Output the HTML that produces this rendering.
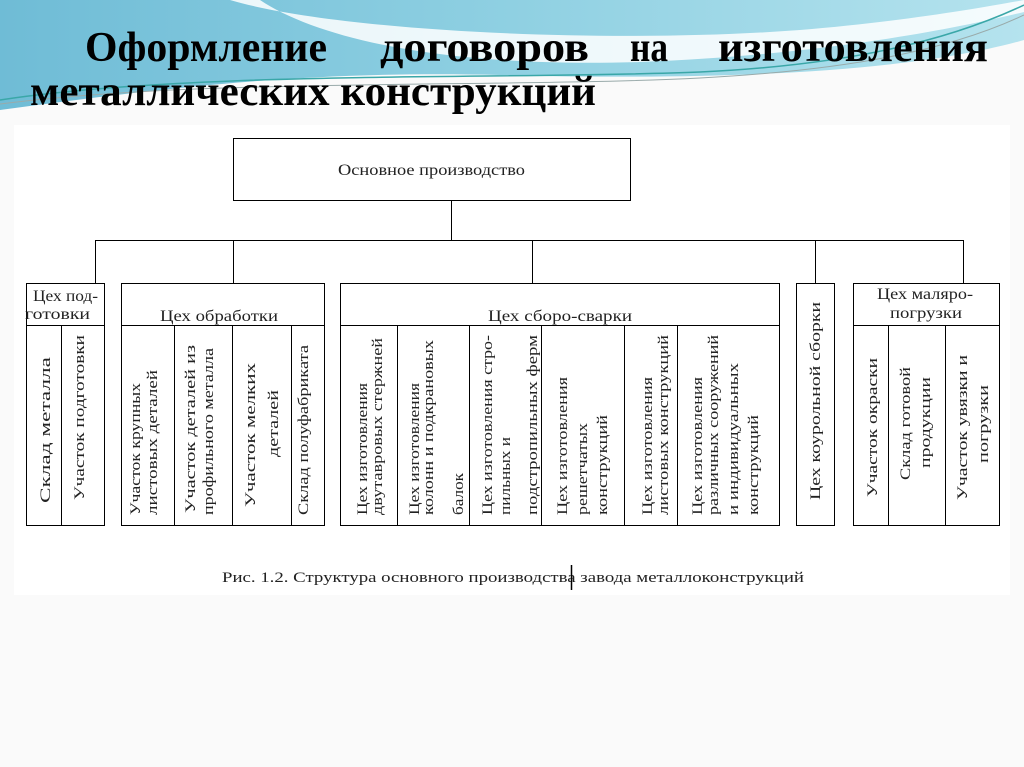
<!DOCTYPE html>
<html><head><meta charset="utf-8"><style>
html,body{margin:0;padding:0;background:#fff;}
svg{display:block;}
</style></head><body>
<svg width="1024" height="767" viewBox="0 0 1024 767" xmlns="http://www.w3.org/2000/svg">
<defs>
<linearGradient id="g1" x1="0" y1="0" x2="1" y2="0">
<stop offset="0" stop-color="#6fbcd6"/><stop offset="0.5" stop-color="#8fd0e2"/><stop offset="1" stop-color="#b5e3ee"/>
</linearGradient>
</defs>
<rect x="0" y="0" width="1024" height="767" fill="#fafafa"/>
<rect x="14" y="125" width="996" height="470" fill="#ffffff"/>
<path d="M0 0 H1024 V40 C900 75 700 80 500 75 C300 70 150 90 0 110 Z" fill="url(#g1)"/>
<path d="M230 0 C330 30 600 45 800 30 C900 22 980 8 1024 0 L1024 12 C950 30 820 55 640 62 C450 68 320 40 260 0 Z" fill="#ffffff" opacity="0.85"/>
<path d="M0 100 C200 70 500 80 700 72 C850 65 950 40 1024 5" stroke="#3aa7a8" stroke-width="1.5" fill="none"/>
<path d="M0 104 C200 78 500 88 700 78 C850 70 950 50 1024 15" stroke="#9aa" stroke-width="1" fill="none"/>
<g font-family="'Liberation Serif','Noto Serif CJK SC',serif" font-weight="bold" fill="#000" font-size="42">
<text x="85" y="61" textLength="242" lengthAdjust="spacingAndGlyphs">Оформление</text>
<text x="380" y="61" textLength="209" lengthAdjust="spacingAndGlyphs">договоров</text>
<text x="630" y="61" textLength="38" lengthAdjust="spacingAndGlyphs">на</text>
<text x="718" y="61" textLength="270" lengthAdjust="spacingAndGlyphs">изготовления</text>
<text x="30" y="105" textLength="566" lengthAdjust="spacingAndGlyphs">металлических конструкций</text>
</g>
<g stroke="#000" stroke-width="1" fill="none">
<rect x="233.5" y="138.5" width="397" height="62"/>
<line x1="451.5" y1="200" x2="451.5" y2="240"/>
<line x1="95" y1="240.5" x2="964" y2="240.5"/>
<line x1="95.5" y1="240" x2="95.5" y2="283"/>
<line x1="233.5" y1="240" x2="233.5" y2="283"/>
<line x1="532.5" y1="240" x2="532.5" y2="283"/>
<line x1="815.5" y1="240" x2="815.5" y2="283"/>
<line x1="963.5" y1="240" x2="963.5" y2="283"/>
<rect x="26.5" y="283.5" width="78" height="242"/>
<line x1="26" y1="325.5" x2="104" y2="325.5"/><line x1="61.5" y1="325" x2="61.5" y2="525"/>
<rect x="121.5" y="283.5" width="203" height="242"/>
<line x1="121" y1="325.5" x2="324" y2="325.5"/>
<line x1="174.5" y1="325" x2="174.5" y2="525"/><line x1="232.5" y1="325" x2="232.5" y2="525"/><line x1="291.5" y1="325" x2="291.5" y2="525"/>
<rect x="340.5" y="283.5" width="439" height="242"/>
<line x1="340" y1="325.5" x2="779" y2="325.5"/>
<line x1="397.5" y1="325" x2="397.5" y2="525"/><line x1="469.5" y1="325" x2="469.5" y2="525"/><line x1="541.5" y1="325" x2="541.5" y2="525"/><line x1="624.5" y1="325" x2="624.5" y2="525"/><line x1="677.5" y1="325" x2="677.5" y2="525"/>
<rect x="796.5" y="283.5" width="38" height="242"/>
<rect x="853.5" y="283.5" width="146" height="242"/>
<line x1="853" y1="325.5" x2="999" y2="325.5"/>
<line x1="888.5" y1="325" x2="888.5" y2="525"/><line x1="945.5" y1="325" x2="945.5" y2="525"/>
</g>
<g font-family="'Liberation Serif','Noto Serif CJK SC',serif" fill="#222" font-size="16">
<text x="338" y="175" textLength="187" lengthAdjust="spacingAndGlyphs">Основное производство</text>
<text x="33" y="301" textLength="65" lengthAdjust="spacingAndGlyphs">Цех под-</text>
<text x="25" y="319" textLength="65" lengthAdjust="spacingAndGlyphs">готовки</text>
<text x="160" y="321" textLength="118" lengthAdjust="spacingAndGlyphs">Цех обработки</text>
<text x="488" y="321" textLength="144" lengthAdjust="spacingAndGlyphs">Цех сборо-сварки</text>
<text x="877" y="299" textLength="96" lengthAdjust="spacingAndGlyphs">Цех маляро-</text>
<text x="890" y="318" textLength="72" lengthAdjust="spacingAndGlyphs">погрузки</text>
<text x="222" y="582" font-size="15" textLength="582" lengthAdjust="spacingAndGlyphs">Рис. 1.2. Структура основного производства завода металлоконструкций</text>
</g>
<line x1="571.5" y1="565" x2="571.5" y2="590" stroke="#000" stroke-width="1.5"/>
<g font-family="'Liberation Serif','Noto Serif CJK SC',serif" fill="#222" font-size="15">
<text transform="translate(50,503) rotate(-90)" textLength="146" lengthAdjust="spacingAndGlyphs">Склад металла</text>
<text transform="translate(84,500) rotate(-90)" textLength="165" lengthAdjust="spacingAndGlyphs">Участок подготовки</text>
<text transform="translate(140,515) rotate(-90)" textLength="132" lengthAdjust="spacingAndGlyphs">Участок крупных</text>
<text transform="translate(157,515) rotate(-90)" textLength="145" lengthAdjust="spacingAndGlyphs">листовых  деталей</text>
<text transform="translate(195,513) rotate(-90)" textLength="168" lengthAdjust="spacingAndGlyphs">Участок деталей из</text>
<text transform="translate(213,515) rotate(-90)" textLength="167" lengthAdjust="spacingAndGlyphs">профильного металла</text>
<text transform="translate(255,507) rotate(-90)" textLength="144" lengthAdjust="spacingAndGlyphs">Участок мелких</text>
<text transform="translate(278,457) rotate(-90)" textLength="67" lengthAdjust="spacingAndGlyphs">деталей</text>
<text transform="translate(308,515) rotate(-90)" textLength="170" lengthAdjust="spacingAndGlyphs">Склад полуфабриката</text>
<text transform="translate(367,515) rotate(-90)" textLength="132" lengthAdjust="spacingAndGlyphs">Цех изготовления</text>
<text transform="translate(382,515) rotate(-90)" textLength="177" lengthAdjust="spacingAndGlyphs">двутавровых стержней</text>
<text transform="translate(419,515) rotate(-90)" textLength="132" lengthAdjust="spacingAndGlyphs">Цех изготовления</text>
<text transform="translate(433,515) rotate(-90)" textLength="175" lengthAdjust="spacingAndGlyphs">колонн и подкрановых</text>
<text transform="translate(463,515) rotate(-90)" textLength="42" lengthAdjust="spacingAndGlyphs">балок</text>
<text transform="translate(492,515) rotate(-90)" textLength="180" lengthAdjust="spacingAndGlyphs">Цех изготовления стро-</text>
<text transform="translate(510,515) rotate(-90)" textLength="78" lengthAdjust="spacingAndGlyphs">пильных и</text>
<text transform="translate(537,515) rotate(-90)" textLength="180" lengthAdjust="spacingAndGlyphs">подстропильных ферм</text>
<text transform="translate(567,515) rotate(-90)" textLength="138" lengthAdjust="spacingAndGlyphs">Цех изготовления</text>
<text transform="translate(587,515) rotate(-90)" textLength="92" lengthAdjust="spacingAndGlyphs">решетчатых</text>
<text transform="translate(607,515) rotate(-90)" textLength="100" lengthAdjust="spacingAndGlyphs">конструкций</text>
<text transform="translate(652,515) rotate(-90)" textLength="138" lengthAdjust="spacingAndGlyphs">Цех изготовления</text>
<text transform="translate(668,515) rotate(-90)" textLength="180" lengthAdjust="spacingAndGlyphs">листовых конструкций</text>
<text transform="translate(702,515) rotate(-90)" textLength="138" lengthAdjust="spacingAndGlyphs">Цех изготовления</text>
<text transform="translate(718,515) rotate(-90)" textLength="180" lengthAdjust="spacingAndGlyphs">различных сооружений</text>
<text transform="translate(738,515) rotate(-90)" textLength="152" lengthAdjust="spacingAndGlyphs">и индивидуальных</text>
<text transform="translate(758,515) rotate(-90)" textLength="100" lengthAdjust="spacingAndGlyphs">конструкций</text>
<text transform="translate(820,500) rotate(-90)" textLength="198" lengthAdjust="spacingAndGlyphs">Цех коурольной  сборки</text>
<text transform="translate(877,497) rotate(-90)" textLength="139" lengthAdjust="spacingAndGlyphs">Участок окраски</text>
<text transform="translate(910,480) rotate(-90)" textLength="113" lengthAdjust="spacingAndGlyphs">Склад готовой</text>
<text transform="translate(930,468) rotate(-90)" textLength="91" lengthAdjust="spacingAndGlyphs">продукции</text>
<text transform="translate(967,500) rotate(-90)" textLength="145" lengthAdjust="spacingAndGlyphs">Участок увязки и</text>
<text transform="translate(988,463) rotate(-90)" textLength="78" lengthAdjust="spacingAndGlyphs">погрузки</text>
</g>
</svg>
</body></html>
